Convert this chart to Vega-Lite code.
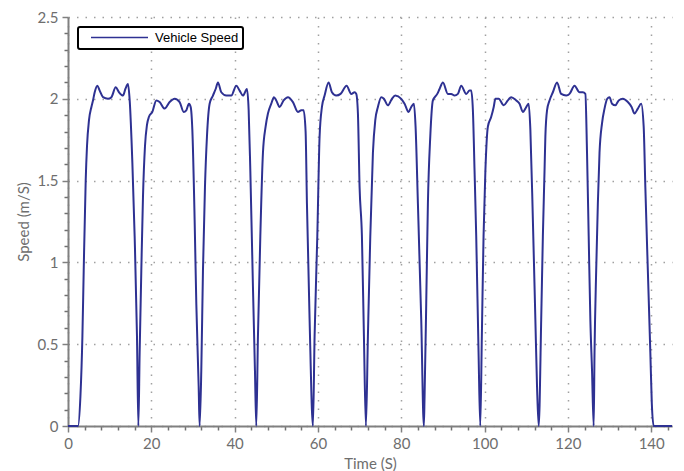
{
  "$schema": "https://vega.github.io/schema/vega-lite/v6.json",
  "width": 604,
  "height": 409,
  "autosize": {"type": "none"},
  "padding": {"left": 68, "top": 17, "right": 12, "bottom": 45},
  "background": "white",
  "config": {
    "view": {"stroke": null},
    "axis": {
      "labelFont": "Lato",
      "labelFontSize": 15,
      "labelColor": "#6e6e6e",
      "titleFont": "Lato",
      "titleFontSize": 15,
      "titleFontWeight": "normal",
      "titleColor": "#6e6e6e",
      "domainColor": "#808080",
      "tickColor": "#808080",
      "gridColor": "#a0a0a0",
      "gridDash": [1.5, 7],
      "gridWidth": 1.5
    }
  },
  "data": {
    "values": [
      {"t": 0, "v": 0}, {"t": 2.4, "v": 0},
      {"t": 2.98, "v": 0.18}, {"t": 3.46, "v": 0.55}, {"t": 3.77, "v": 0.95}, {"t": 4.25, "v": 1.5}, {"t": 4.56, "v": 1.71}, {"t": 5.04, "v": 1.87}, {"t": 5.62, "v": 1.95}, {"t": 6.0, "v": 1.99}, {"t": 6.41, "v": 2.04}, {"t": 7.06, "v": 2.08}, {"t": 7.61, "v": 2.05}, {"t": 8.4, "v": 2.01}, {"t": 9.6, "v": 2.0}, {"t": 10.42, "v": 2.01}, {"t": 11.45, "v": 2.07}, {"t": 12.24, "v": 2.04}, {"t": 13.2, "v": 2.02}, {"t": 13.77, "v": 2.06}, {"t": 14.4, "v": 2.09}, {"t": 14.81, "v": 1.99}, {"t": 15.45, "v": 1.61}, {"t": 16.0, "v": 1.16}, {"t": 16.56, "v": 0.55}, {"t": 16.89, "v": 0},
      {"t": 17.2, "v": 0.45}, {"t": 17.6, "v": 0.95}, {"t": 18.0, "v": 1.4}, {"t": 18.48, "v": 1.71}, {"t": 18.96, "v": 1.84}, {"t": 19.44, "v": 1.89}, {"t": 20.25, "v": 1.92}, {"t": 21.2, "v": 1.99}, {"t": 22.0, "v": 1.98}, {"t": 23.2, "v": 1.94}, {"t": 24.4, "v": 1.98}, {"t": 25.6, "v": 2.0}, {"t": 26.8, "v": 1.98}, {"t": 27.77, "v": 1.92}, {"t": 28.4, "v": 1.93}, {"t": 29.04, "v": 1.97}, {"t": 29.45, "v": 1.95}, {"t": 29.85, "v": 1.81}, {"t": 30.4, "v": 1.26}, {"t": 30.8, "v": 0.75}, {"t": 31.37, "v": 0.24}, {"t": 31.6, "v": 0},
      {"t": 32.0, "v": 0.34}, {"t": 32.4, "v": 0.95}, {"t": 32.88, "v": 1.46}, {"t": 33.36, "v": 1.77}, {"t": 34.0, "v": 1.97}, {"t": 34.8, "v": 2.02}, {"t": 35.45, "v": 2.06}, {"t": 36.0, "v": 2.1}, {"t": 36.8, "v": 2.04}, {"t": 38.0, "v": 2.02}, {"t": 39.2, "v": 2.02}, {"t": 40.4, "v": 2.08}, {"t": 41.2, "v": 2.05}, {"t": 42.0, "v": 2.02}, {"t": 42.96, "v": 2.06}, {"t": 43.37, "v": 1.93}, {"t": 43.77, "v": 1.56}, {"t": 44.4, "v": 0.85}, {"t": 44.88, "v": 0.34}, {"t": 45.2, "v": 0},
      {"t": 45.6, "v": 0.55}, {"t": 46.17, "v": 1.16}, {"t": 46.8, "v": 1.67}, {"t": 47.44, "v": 1.83}, {"t": 48.0, "v": 1.91}, {"t": 48.8, "v": 1.97}, {"t": 49.44, "v": 2.01}, {"t": 50.0, "v": 1.99}, {"t": 50.8, "v": 1.95}, {"t": 51.76, "v": 1.99}, {"t": 52.8, "v": 2.01}, {"t": 54.0, "v": 1.98}, {"t": 55.2, "v": 1.92}, {"t": 56.0, "v": 1.93}, {"t": 56.56, "v": 1.93}, {"t": 57.04, "v": 1.8}, {"t": 57.36, "v": 1.36}, {"t": 58.0, "v": 0.65}, {"t": 58.8, "v": 0},
      {"t": 59.2, "v": 0.55}, {"t": 59.85, "v": 1.16}, {"t": 60.4, "v": 1.77}, {"t": 60.96, "v": 1.95}, {"t": 61.6, "v": 2.02}, {"t": 62.56, "v": 2.1}, {"t": 63.36, "v": 2.04}, {"t": 64.4, "v": 2.02}, {"t": 65.44, "v": 2.03}, {"t": 66.88, "v": 2.08}, {"t": 68.0, "v": 2.03}, {"t": 68.8, "v": 2.04}, {"t": 69.2, "v": 2.03}, {"t": 69.6, "v": 1.91}, {"t": 70.0, "v": 1.46}, {"t": 70.56, "v": 1.16}, {"t": 71.04, "v": 0.55}, {"t": 71.52, "v": 0},
      {"t": 72.0, "v": 0.55}, {"t": 72.57, "v": 1.16}, {"t": 73.2, "v": 1.67}, {"t": 73.77, "v": 1.87}, {"t": 74.4, "v": 1.95}, {"t": 75.2, "v": 2.01}, {"t": 75.84, "v": 2.0}, {"t": 76.8, "v": 1.96}, {"t": 77.75, "v": 2.0}, {"t": 78.57, "v": 2.02}, {"t": 80.0, "v": 2.0}, {"t": 80.8, "v": 1.97}, {"t": 81.76, "v": 1.92}, {"t": 82.4, "v": 1.95}, {"t": 83.04, "v": 1.97}, {"t": 83.44, "v": 1.83}, {"t": 84.0, "v": 1.36}, {"t": 84.8, "v": 0.65}, {"t": 85.43, "v": 0},
      {"t": 85.6, "v": 0.18}, {"t": 86.0, "v": 0.75}, {"t": 86.4, "v": 1.36}, {"t": 86.97, "v": 1.77}, {"t": 87.6, "v": 1.99}, {"t": 88.65, "v": 2.03}, {"t": 89.2, "v": 2.06}, {"t": 90.0, "v": 2.1}, {"t": 91.2, "v": 2.03}, {"t": 92.0, "v": 2.03}, {"t": 92.8, "v": 2.02}, {"t": 93.6, "v": 2.03}, {"t": 94.4, "v": 2.08}, {"t": 95.6, "v": 2.03}, {"t": 96.4, "v": 2.05}, {"t": 96.8, "v": 2.05}, {"t": 97.2, "v": 1.93}, {"t": 97.6, "v": 1.56}, {"t": 98.0, "v": 1.16}, {"t": 98.56, "v": 0.45}, {"t": 98.97, "v": 0},
      {"t": 99.35, "v": 0.55}, {"t": 99.76, "v": 1.16}, {"t": 100.2, "v": 1.56}, {"t": 100.8, "v": 1.83}, {"t": 101.6, "v": 1.89}, {"t": 102.2, "v": 1.95}, {"t": 102.6, "v": 2.0}, {"t": 103.4, "v": 2.0}, {"t": 104.6, "v": 1.96}, {"t": 105.6, "v": 1.99}, {"t": 106.4, "v": 2.01}, {"t": 107.6, "v": 1.99}, {"t": 108.4, "v": 1.97}, {"t": 109.2, "v": 1.92}, {"t": 109.8, "v": 1.94}, {"t": 110.6, "v": 1.97}, {"t": 111.0, "v": 1.81}, {"t": 111.6, "v": 1.26}, {"t": 112.2, "v": 0.65}, {"t": 112.6, "v": 0.24}, {"t": 113.0, "v": 0},
      {"t": 113.6, "v": 0.65}, {"t": 114.0, "v": 1.16}, {"t": 114.4, "v": 1.56}, {"t": 114.6, "v": 1.77}, {"t": 115.0, "v": 1.93}, {"t": 115.6, "v": 1.99}, {"t": 116.4, "v": 2.04}, {"t": 117.4, "v": 2.1}, {"t": 118.4, "v": 2.03}, {"t": 119.6, "v": 2.02}, {"t": 120.4, "v": 2.03}, {"t": 121.6, "v": 2.08}, {"t": 122.8, "v": 2.04}, {"t": 123.6, "v": 2.04}, {"t": 124.2, "v": 2.03}, {"t": 124.6, "v": 1.67}, {"t": 125.0, "v": 1.16}, {"t": 125.4, "v": 0.65}, {"t": 125.8, "v": 0.34}, {"t": 126.2, "v": 0},
      {"t": 126.4, "v": 0.45}, {"t": 126.8, "v": 0.95}, {"t": 127.2, "v": 1.36}, {"t": 127.6, "v": 1.67}, {"t": 128.2, "v": 1.85}, {"t": 128.8, "v": 1.94}, {"t": 129.45, "v": 2.0}, {"t": 130.0, "v": 2.01}, {"t": 130.6, "v": 1.97}, {"t": 131.4, "v": 1.96}, {"t": 132.2, "v": 1.99}, {"t": 133.2, "v": 2.0}, {"t": 134.4, "v": 1.98}, {"t": 135.3, "v": 1.95}, {"t": 136.0, "v": 1.91}, {"t": 136.8, "v": 1.94}, {"t": 137.6, "v": 1.97}, {"t": 138.2, "v": 1.83}, {"t": 138.6, "v": 1.46}, {"t": 139.2, "v": 0.95}, {"t": 139.8, "v": 0.45}, {"t": 140.15, "v": 0.14}, {"t": 140.6, "v": 0}, {"t": 145, "v": 0}
    ]
  },
  "layer": [
    {
      "mark": {"type": "point", "opacity": 0},
      "encoding": {
        "x": {
          "field": "t", "type": "quantitative",
          "scale": {"domain": [0, 145], "nice": false, "zero": false},
          "axis": {
            "orient": "bottom",
            "values": [4, 8, 12, 16, 24, 28, 32, 36, 44, 48, 52, 56, 64, 68, 72, 76, 84, 88, 92, 96, 104, 108, 112, 116, 124, 128, 132, 136, 144],
            "labels": false, "domain": false, "grid": false, "title": null,
            "tickSize": 4, "tickWidth": 1.5, "tickColor": "#707070"
          }
        },
        "y": {
          "field": "v", "type": "quantitative",
          "scale": {"domain": [0, 2.5], "nice": false},
          "axis": {
            "orient": "left",
            "values": [0.1, 0.2, 0.3, 0.4, 0.6, 0.7, 0.8, 0.9, 1.1, 1.2, 1.3, 1.4, 1.6, 1.7, 1.8, 1.9, 2.1, 2.2, 2.3, 2.4],
            "labels": false, "domain": false, "grid": false, "title": null,
            "tickSize": 4, "tickWidth": 1.5, "tickColor": "#707070"
          }
        }
      }
    },
    {
      "mark": {"type": "line", "strokeWidth": 2, "interpolate": "monotone"},
      "encoding": {
        "x": {
          "field": "t", "type": "quantitative",
          "scale": {"domain": [0, 145], "nice": false, "zero": false},
          "axis": {
            "orient": "bottom",
            "values": [0, 20, 40, 60, 80, 100, 120, 140],
            "grid": true, "title": "Time (S)", "titlePadding": 5,
            "domainWidth": 2, "tickSize": 6, "tickWidth": 1.5, "labelPadding": 4, "labelFlush": false
          }
        },
        "y": {
          "field": "v", "type": "quantitative",
          "scale": {"domain": [0, 2.5], "nice": false},
          "axis": {
            "orient": "left",
            "values": [0, 0.5, 1, 1.5, 2, 2.5],
            "labelExpr": "'' + datum.value",
            "grid": true, "title": "Speed (m/S)", "titlePadding": 6,
            "domainWidth": 2, "tickSize": 6, "tickWidth": 1.5, "labelPadding": 4
          }
        },
        "color": {
          "datum": "Vehicle Speed",
          "scale": {"range": ["#2e3192"]},
          "legend": {
            "orient": "none", "legendX": 10, "legendY": 10,
            "title": null,
            "symbolType": "M-5.7,0H5.7",
            "symbolSize": 100,
            "symbolStrokeWidth": 1.5,
            "symbolStrokeColor": "#2e3192",
            "symbolFillColor": "transparent",
            "symbolOffset": 31,
            "labelOffset": 29,
            "labelFont": "Liberation Sans",
            "labelFontSize": 13,
            "labelColor": "black",
            "padding": 4,
            "strokeColor": "black",
            "fillColor": "white",
            "cornerRadius": 2,
            "encode": {"legend": {"update": {"strokeWidth": {"value": 2}}}}
          }
        }
      }
    }
  ],
  "resolve": {"axis": {"x": "independent", "y": "independent"}}
}
